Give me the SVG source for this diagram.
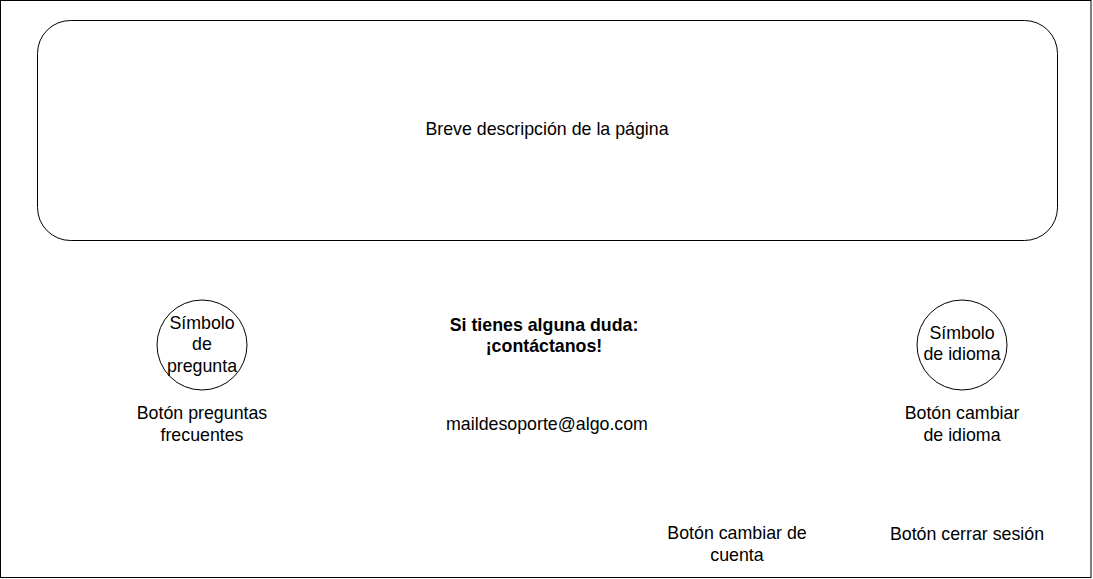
<svg xmlns="http://www.w3.org/2000/svg" width="1093" height="579" viewBox="0 0 1093 579">
<style>
.t{font-family:"Liberation Sans",Arial,sans-serif;font-size:17.8px;fill:#000;text-anchor:middle}
.b{font-weight:bold}
.s{fill:#fff;stroke:#000;stroke-width:1}
</style>
<rect width="1093" height="579" fill="#fff"/>
<g id="frame"><rect class="s" x="0.5" y="0.5" width="1090.5" height="577" stroke="#333"/></g>
<g id="descripcion">
<rect class="s" x="37.5" y="20.5" width="1020" height="220" rx="33" ry="33"/>
<text class="t" x="547" y="134.5">Breve descripción de la página</text>
</g>
<g id="simbolo-pregunta">
<circle class="s" cx="202" cy="345" r="45"/>
<text class="t" x="202" y="328.5">Símbolo</text>
<text class="t" x="202" y="350">de</text>
<text class="t" x="202" y="371.5">pregunta</text>
</g>
<g id="boton-preguntas">
<text class="t" x="202" y="418.5">Botón preguntas</text>
<text class="t" x="202" y="441">frecuentes</text>
</g>
<g id="contacto">
<text class="t b" x="544" y="330.5">Si tienes alguna duda:</text>
<text class="t b" x="544" y="351.5">¡contáctanos!</text>
</g>
<g id="mail"><text class="t" x="547" y="429.5">maildesoporte@algo.com</text></g>
<g id="simbolo-idioma">
<circle class="s" cx="962" cy="345" r="45"/>
<text class="t" x="962" y="339">Símbolo</text>
<text class="t" x="962" y="360">de idioma</text>
</g>
<g id="boton-idioma">
<text class="t" x="962" y="418.5">Botón cambiar</text>
<text class="t" x="962" y="441">de idioma</text>
</g>
<g id="boton-cuenta">
<text class="t" x="737" y="538.5">Botón cambiar de</text>
<text class="t" x="737" y="560.5">cuenta</text>
</g>
<g id="boton-cerrar"><text class="t" x="967" y="539.5">Botón cerrar sesión</text></g>
<g id="connectors"></g>
</svg>
